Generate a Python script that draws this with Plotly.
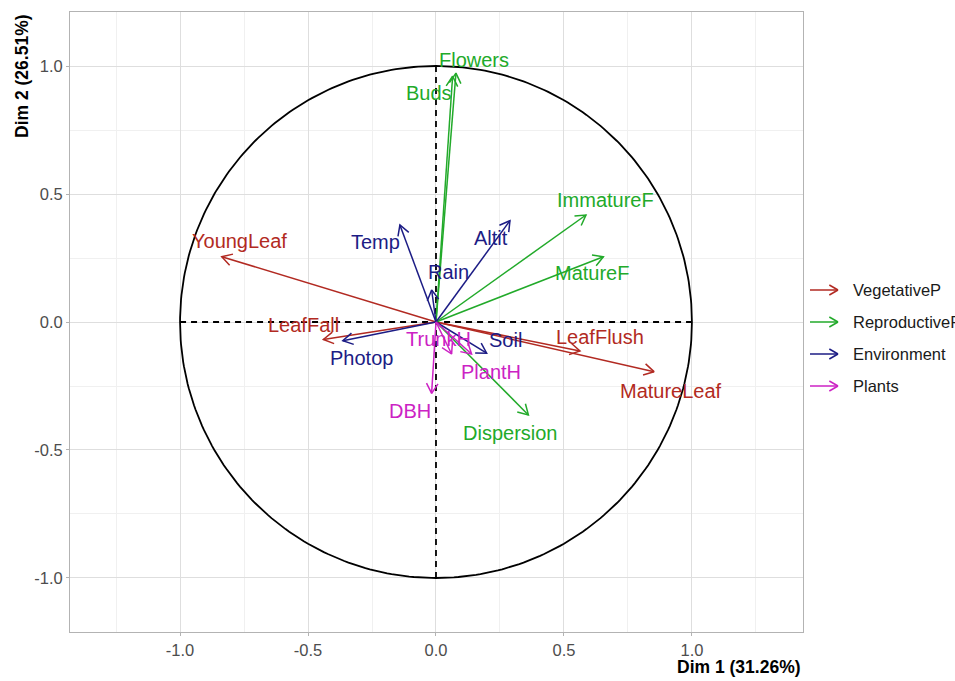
import math
import plotly.graph_objects as go

# Variable coordinates on the first two dimensions
variables = ["YoungLeaf", "LeafFall", "LeafFlush", "MatureLeaf",
             "Flowers", "Buds", "ImmatureF", "MatureF", "Dispersion",
             "Temp", "Rain", "Altit", "Photop", "Soil",
             "DBH", "TrunkH", "PlantH"]
dim1 = [-0.837, -0.440, 0.5625, 0.852,
        0.078, 0.065, 0.586, 0.654, 0.361,
        -0.141, -0.017, 0.289, -0.364, 0.198,
        -0.017, 0.061, 0.139]
dim2 = [0.255, -0.068, -0.113, -0.194,
        0.972, 0.960, 0.418, 0.255, -0.363,
        0.379, 0.125, 0.396, -0.073, -0.122,
        -0.279, -0.125, -0.125]
groups = ["VegetativeP"] * 4 + ["ReproductiveP"] * 5 + ["Environment"] * 5 + ["Plants"] * 3

group_names = ["VegetativeP", "ReproductiveP", "Environment", "Plants"]
group_colors = {"VegetativeP": "#B22A22", "ReproductiveP": "#22AA2A",
                "Environment": "#1C1C85", "Plants": "#CC22C4"}

x_ticks = [-1.0, -0.5, 0.0, 0.5, 1.0]
y_ticks = [-1.0, -0.5, 0.0, 0.5, 1.0]
x_title = "Dim 1 (31.26%)"
y_title = "Dim 2 (26.51%)"

# Label offsets from arrow tips (data units), keeps text clear of the arrows
label_offset = {
    "YoungLeaf": (0.07, 0.06), "LeafFall": (-0.076, 0.056), "LeafFlush": (0.078, 0.054),
    "MatureLeaf": (0.066, -0.076), "Flowers": (0.07, 0.05), "Buds": (-0.092, -0.066),
    "ImmatureF": (0.078, 0.059), "MatureF": (-0.045, -0.064), "Dispersion": (-0.072, -0.071),
    "Temp": (-0.097, -0.068), "Rain": (0.064, 0.07), "Altit": (-0.074, -0.068),
    "Photop": (0.071, -0.067), "Soil": (0.075, 0.052), "DBH": (-0.083, -0.069),
    "TrunkH": (-0.05, 0.059), "PlantH": (0.076, -0.07),
}

FONT = "Liberation Sans, Arial, sans-serif"
HEAD_LEN = 0.045
HEAD_ANG = math.pi / 6

fig = go.Figure()

# Correlation circle
n = 361
cx = [math.cos(2 * math.pi * i / (n - 1)) for i in range(n)]
cy = [math.sin(2 * math.pi * i / (n - 1)) for i in range(n)]
fig.add_trace(go.Scatter(x=cx, y=cy, mode="lines", line=dict(color="black", width=1.8),
                         hoverinfo="skip", showlegend=False))
# Dashed axes through the origin
fig.add_trace(go.Scatter(x=[-1, 1, None, 0, 0], y=[0, 0, None, -1, 1], mode="lines",
                         line=dict(color="black", width=1.8, dash="6px,5px"),
                         hoverinfo="skip", showlegend=False))

# Arrows: shafts and open heads, one trace per group
for g in group_names:
    xs, ys = [], []
    for v, x, y, gg in zip(variables, dim1, dim2, groups):
        if gg != g:
            continue
        th = math.atan2(y, x)
        xs += [0, x, None]
        ys += [0, y, None]
        xs += [x - HEAD_LEN * math.cos(th + HEAD_ANG), x, x - HEAD_LEN * math.cos(th - HEAD_ANG), None]
        ys += [y - HEAD_LEN * math.sin(th + HEAD_ANG), y, y - HEAD_LEN * math.sin(th - HEAD_ANG), None]
    fig.add_trace(go.Scatter(x=xs, y=ys, mode="lines",
                             line=dict(color=group_colors[g], width=1.5),
                             hoverinfo="skip", showlegend=False))

annotations = []
for v, x, y, gg in zip(variables, dim1, dim2, groups):
    dx, dy = label_offset[v]
    annotations.append(dict(x=x + dx, y=y + dy, xref="x", yref="y", text=v, showarrow=False,
                             xanchor="center", yanchor="middle",
                             font=dict(family=FONT, size=20, color=group_colors[gg])))

# Plot area geometry in pixels (used for the legend and titles)
W, H = 955, 681
L, R, T, B = 70, 152, 12, 49
pw, ph = W - L - R, H - T - B


def px(xp):
    return (xp - L) / pw


def py(yp):
    return (H - B - yp) / ph


shapes = []
for i, g in enumerate(group_names):
    yy = 290 + 32 * i
    col = group_colors[g]
    x0, x1 = 810, 838
    shapes.append(dict(type="line", xref="paper", yref="paper", x0=px(x0), x1=px(x1),
                       y0=py(yy), y1=py(yy), line=dict(color=col, width=1.5)))
    for s in (-1, 1):
        shapes.append(dict(type="line", xref="paper", yref="paper",
                           x0=px(x1 - 10 * math.cos(HEAD_ANG)), x1=px(x1),
                           y0=py(yy + s * 10 * math.sin(HEAD_ANG)), y1=py(yy),
                           line=dict(color=col, width=1.5)))
    annotations.append(dict(x=px(851), y=py(yy), xref="paper", yref="paper", text=g,
                            showarrow=False, xanchor="left", yanchor="middle",
                            font=dict(family=FONT, size=16.5, color="#1A1A1A")))

annotations.append(dict(x=1, y=py(667), xref="paper", yref="paper", text="<b>%s</b>" % x_title,
                        showarrow=False, xanchor="right", yanchor="middle",
                        font=dict(family=FONT, size=17.5, color="black")))
annotations.append(dict(x=px(22), y=1, xref="paper", yref="paper", text="<b>%s</b>" % y_title,
                        showarrow=False, xanchor="center", yanchor="top", textangle=-90,
                        font=dict(family=FONT, size=17.5, color="black")))

axis_common = dict(showgrid=True, gridcolor="#DEDEDE", gridwidth=1,
                   zeroline=False, showline=True, mirror=True, linecolor="#B3B3B3", linewidth=1,
                   ticks="outside", ticklen=3, tickcolor="#B3B3B3",
                   tickfont=dict(family=FONT, size=16.5, color="#4D4D4D"),
                   minor=dict(showgrid=True, gridcolor="#F0F0F0", gridwidth=1, dtick=0.25, tick0=0.25))

fig.update_layout(
    width=W, height=H,
    margin=dict(l=L, r=R, t=T, b=B),
    paper_bgcolor="white", plot_bgcolor="white",
    showlegend=False,
    xaxis=dict(range=[-1.43, 1.434], tickvals=x_ticks, ticktext=["%.1f" % t for t in x_ticks],
               **axis_common),
    yaxis=dict(range=[-1.211, 1.211], tickvals=y_ticks, ticktext=["%.1f" % t for t in y_ticks],
               **axis_common),
    annotations=annotations,
    shapes=shapes,
)

fig.write_html("out.html")
